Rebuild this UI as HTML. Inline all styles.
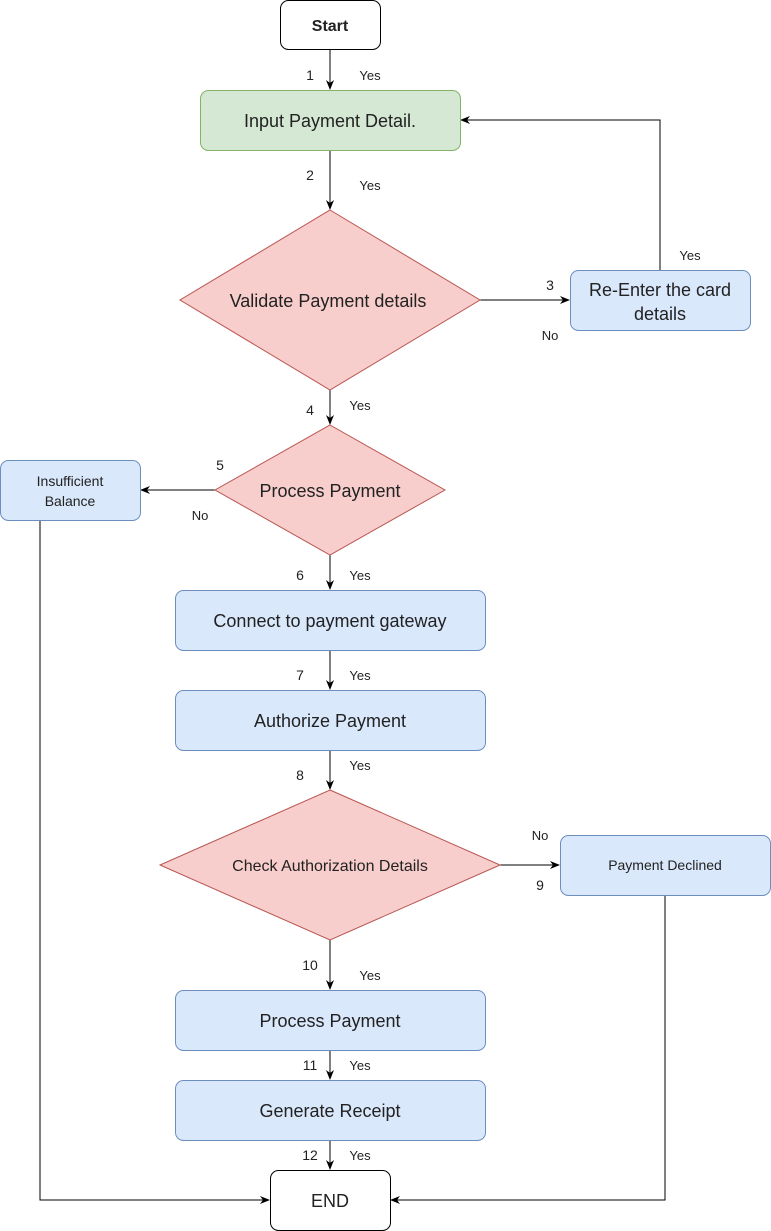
<!DOCTYPE html>
<html><head><meta charset="utf-8"><style>
html,body{margin:0;padding:0;background:#fff;}
svg{display:block;font-family:"Liberation Sans",Arial,sans-serif;}
</style></head><body>
<svg width="771" height="1231" viewBox="0 0 771 1231" xmlns="http://www.w3.org/2000/svg">
<defs>
<marker id="a" markerWidth="10" markerHeight="10" refX="9" refY="5" orient="auto" markerUnits="userSpaceOnUse">
<path d="M0,1 L10,5 L0,9 L3,5 Z" fill="#000"/>
</marker>
</defs>
<g stroke="#000" stroke-width="1" fill="none">
<line x1="330" y1="50" x2="330" y2="89" marker-end="url(#a)"/>
<line x1="330" y1="150" x2="330" y2="209" marker-end="url(#a)"/>
<line x1="480" y1="300" x2="569" y2="300" marker-end="url(#a)"/>
<polyline points="660,270 660,120 461,120" marker-end="url(#a)"/>
<line x1="330" y1="390" x2="330" y2="424" marker-end="url(#a)"/>
<line x1="215" y1="490" x2="141" y2="490" marker-end="url(#a)"/>
<polyline points="40,520 40,1200 269,1200" marker-end="url(#a)"/>
<line x1="330" y1="555" x2="330" y2="589" marker-end="url(#a)"/>
<line x1="330" y1="650" x2="330" y2="689" marker-end="url(#a)"/>
<line x1="330" y1="750" x2="330" y2="789" marker-end="url(#a)"/>
<line x1="500" y1="865" x2="559" y2="865" marker-end="url(#a)"/>
<polyline points="665,895 665,1200 391,1200" marker-end="url(#a)"/>
<line x1="330" y1="940" x2="330" y2="989" marker-end="url(#a)"/>
<line x1="330" y1="1050" x2="330" y2="1079" marker-end="url(#a)"/>
<line x1="330" y1="1140" x2="330" y2="1169" marker-end="url(#a)"/>
</g>
<rect x="280.5" y="0.5" width="100" height="49" rx="8" fill="#fff" stroke="#000"/>
<rect x="200.5" y="90.5" width="260" height="60" rx="8" fill="#d5e8d4" stroke="#82b366"/>
<polygon points="330,210 480,300 330,390 180,300" fill="#f8cecc" stroke="#b85450"/>
<rect x="570.5" y="270.5" width="180" height="60" rx="8" fill="#dae8fc" stroke="#6c8ebf"/>
<polygon points="330,425 445,490 330,555 215,490" fill="#f8cecc" stroke="#b85450"/>
<rect x="0.5" y="460.5" width="140" height="60" rx="8" fill="#dae8fc" stroke="#6c8ebf"/>
<rect x="175.5" y="590.5" width="310" height="60" rx="8" fill="#dae8fc" stroke="#6c8ebf"/>
<rect x="175.5" y="690.5" width="310" height="60" rx="8" fill="#dae8fc" stroke="#6c8ebf"/>
<polygon points="330,790 500,865 330,940 160,865" fill="#f8cecc" stroke="#b85450"/>
<rect x="560.5" y="835.5" width="210" height="60" rx="8" fill="#dae8fc" stroke="#6c8ebf"/>
<rect x="175.5" y="990.5" width="310" height="60" rx="8" fill="#dae8fc" stroke="#6c8ebf"/>
<rect x="175.5" y="1080.5" width="310" height="60" rx="8" fill="#dae8fc" stroke="#6c8ebf"/>
<rect x="270.5" y="1170.5" width="120" height="60" rx="8" fill="#fff" stroke="#000"/>
<g fill="#222" text-anchor="middle">
<text x="330" y="31" font-size="16" font-weight="bold">Start</text>
<text x="330" y="127" font-size="18">Input Payment Detail.</text>
<text x="328" y="307" font-size="18">Validate Payment details</text>
<text x="660" y="296" font-size="18">Re-Enter the card</text>
<text x="660" y="320" font-size="18">details</text>
<text x="330" y="497" font-size="18">Process Payment</text>
<text x="70" y="486" font-size="14">Insufficient</text>
<text x="70" y="506" font-size="14">Balance</text>
<text x="330" y="627" font-size="18">Connect to payment gateway</text>
<text x="330" y="727" font-size="18">Authorize Payment</text>
<text x="330" y="871" font-size="16">Check Authorization Details</text>
<text x="665" y="870" font-size="14">Payment Declined</text>
<text x="330" y="1027" font-size="18">Process Payment</text>
<text x="330" y="1117" font-size="18">Generate Receipt</text>
<text x="330" y="1207" font-size="18">END</text>
</g>
<g fill="#222" font-size="14" text-anchor="middle">
<text x="310" y="80">1</text><text x="370" y="80" font-size="13">Yes</text>
<text x="310" y="180">2</text><text x="370" y="190" font-size="13">Yes</text>
<text x="550" y="290">3</text><text x="550" y="340" font-size="13">No</text>
<text x="690" y="260" font-size="13">Yes</text>
<text x="310" y="415">4</text><text x="360" y="410" font-size="13">Yes</text>
<text x="220" y="470">5</text><text x="200" y="520" font-size="13">No</text>
<text x="300" y="580">6</text><text x="360" y="580" font-size="13">Yes</text>
<text x="300" y="680">7</text><text x="360" y="680" font-size="13">Yes</text>
<text x="300" y="780">8</text><text x="360" y="770" font-size="13">Yes</text>
<text x="540" y="840" font-size="13">No</text><text x="540" y="890">9</text>
<text x="310" y="970">10</text><text x="370" y="980" font-size="13">Yes</text>
<text x="310" y="1070">11</text><text x="360" y="1070" font-size="13">Yes</text>
<text x="310" y="1160">12</text><text x="360" y="1160" font-size="13">Yes</text>
</g>
</svg>
</body></html>
